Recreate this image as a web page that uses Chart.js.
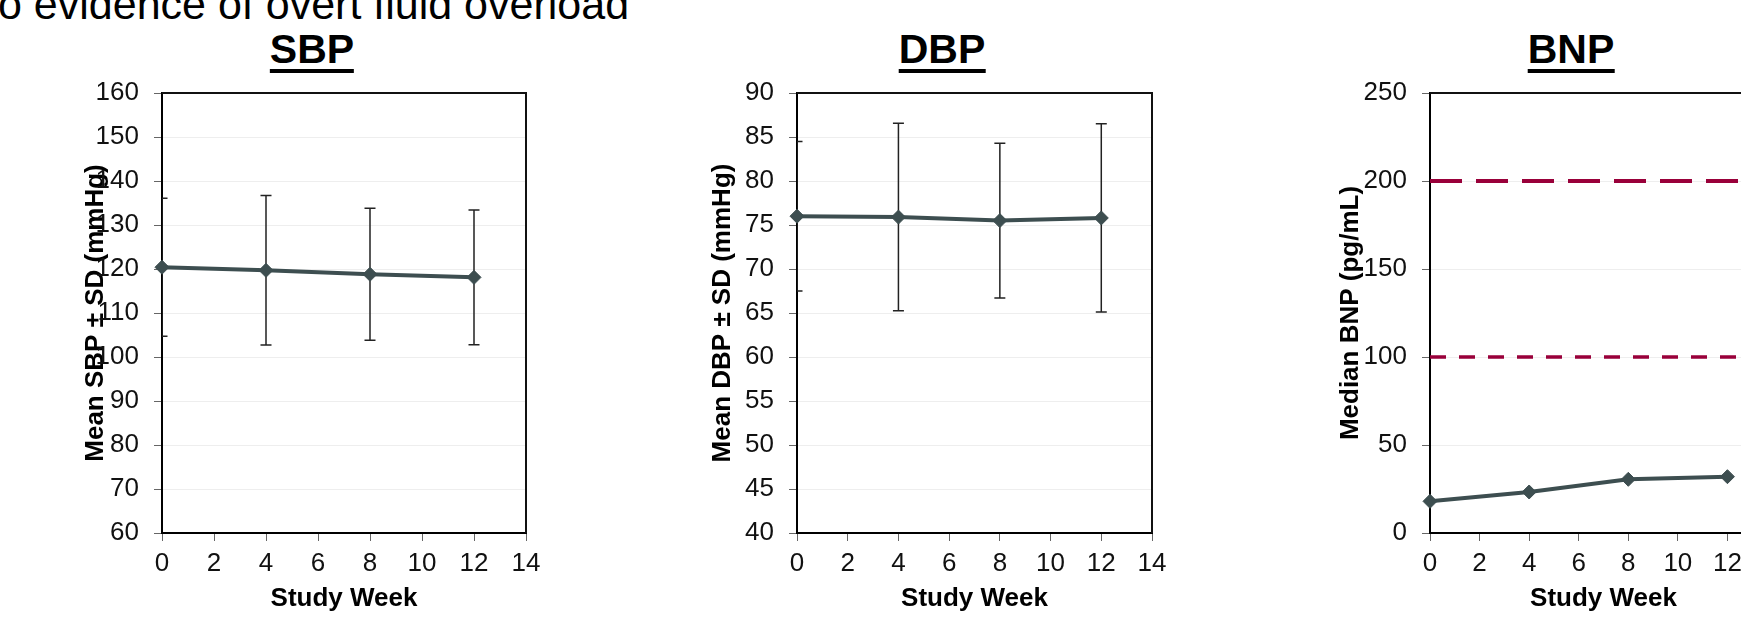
<!DOCTYPE html>
<html>
<head>
<meta charset="utf-8">
<script src="https://cdn.jsdelivr.net/npm/chart.js@4.4.1/dist/chart.umd.min.js"></script>
<style>
  html, body { margin: 0; padding: 0; background: #fff; width: 1741px; height: 618px; overflow: hidden; }
  body { position: relative; font-family: 'Liberation Sans', Arial, sans-serif; color: #000; }
  .headline { position: absolute; left: -2px; top: -17px; font-size: 43px; line-height: 43px; white-space: nowrap; }
  .ttl { position: absolute; top: 29px; font-size: 41px; line-height: 40px; font-weight: bold;
         transform: translateX(-50%); border-bottom: 4px solid #000; white-space: nowrap; }
  canvas { position: absolute; top: 0; }
</style>
</head>
<body>
<div class="headline">o evidence of overt fluid overload</div>
<div class="ttl" style="left:312px">SBP</div>
<div class="ttl" style="left:942px">DBP</div>
<div class="ttl" style="left:1571px">BNP</div>
<canvas id="sbp"></canvas>
<canvas id="dbp"></canvas>
<canvas id="bnp"></canvas>
<script>
// data
const weeks = [0, 4, 8, 12];
const weekTicks = [0, 2, 4, 6, 8, 10, 12, 14];

const sbpMean = [120.4, 119.7, 118.8, 118.1];
const sbpSd = [15.7, 17.0, 15.0, 15.3];
const sbpTicks = [60, 70, 80, 90, 100, 110, 120, 130, 140, 150, 160];

const dbpMean = [76.0, 75.9, 75.5, 75.8];
const dbpSd = [8.5, 10.65, 8.8, 10.7];
const dbpTicks = [40, 45, 50, 55, 60, 65, 70, 75, 80, 85, 90];

const bnpMedian = [18.0, 23.3, 30.5, 32.0];
const bnpRefLevels = [100, 200];
const bnpTicks = [0, 50, 100, 150, 200, 250];

const SLATE = '#3d4e50';
const CRIMSON = '#99003a';

Chart.defaults.font.family = "'Liberation Sans', Arial, sans-serif";
Chart.defaults.color = '#111';

//error bars drawn through the chart scales
const errorBars = {
  id: 'errorBars',
  beforeDatasetsDraw(chart, args, opts) {
    const sd = opts.sd;
    if (!sd) return;
    const { ctx, chartArea: a, scales: { x, y } } = chart;
    const pts = chart.data.datasets[0].data;
    ctx.save();
    ctx.beginPath();
    ctx.rect(a.left, a.top, a.right - a.left, a.bottom - a.top);
    ctx.clip();
    ctx.strokeStyle = '#222';
    ctx.lineWidth = 1.5;
    pts.forEach((p, i) => {
      const px = x.getPixelForValue(p.x);
      const hi = y.getPixelForValue(p.y + sd[i]);
      const lo = y.getPixelForValue(p.y - sd[i]);
      ctx.beginPath();
      ctx.moveTo(px, hi); ctx.lineTo(px, lo);
      ctx.moveTo(px - 5.5, hi); ctx.lineTo(px + 5.5, hi);
      ctx.moveTo(px - 5.5, lo); ctx.lineTo(px + 5.5, lo);
      ctx.stroke();
    });
    ctx.restore();
  }
};

//top + right border of the plot box
const frame = {
  id: 'frame',
  beforeDatasetsDraw(chart) {
    const { ctx, chartArea: a } = chart;
    ctx.save();
    ctx.strokeStyle = '#111';
    ctx.lineWidth = 2;
    ctx.beginPath();
    ctx.moveTo(a.left, a.top);
    ctx.lineTo(a.right, a.top);
    ctx.lineTo(a.right, a.bottom);
    ctx.stroke();
    ctx.restore();
  }
};

function toPoints(xs, ys) {
  return xs.map((w, i) => ({ x: w, y: ys[i] }));
}

function makePanel(id, cfg) {
  const canvas = document.getElementById(id);
  const W = cfg.plotRight + 40 - cfg.canvasLeft;
  const H = 618;
  canvas.width = W; canvas.height = H;
  canvas.style.left = cfg.canvasLeft + 'px';
  canvas.style.width = W + 'px'; canvas.style.height = H + 'px';
  const yStep = cfg.yTicks[1] - cfg.yTicks[0];

  const datasets = [{
    data: toPoints(weeks, cfg.values),
    borderColor: SLATE,
    backgroundColor: SLATE,
    borderWidth: 4,
    pointStyle: 'rectRot',
    pointRadius: 7,
    pointBorderWidth: 1,
    pointBackgroundColor: SLATE,
    pointBorderColor: SLATE,
    tension: 0,
    clip: false,
  }];
  (cfg.refs || []).forEach(r => datasets.push({
    data: toPoints([weekTicks[0], weekTicks[weekTicks.length - 1]], [r.level, r.level]),
    borderColor: CRIMSON,
    borderWidth: r.width,
    borderDash: r.dash,
    pointRadius: 0,
    tension: 0,
  }));

  return new Chart(canvas, {
    type: 'line',
    data: { datasets },
    plugins: [frame, errorBars],
    options: {
      responsive: false,
      animation: false,
      layout: { padding: { top: 93, right: 40, bottom: 0, left: 0 } },
      plugins: {
        legend: { display: false },
        tooltip: { enabled: false },
        errorBars: { sd: cfg.sd },
      },
      scales: {
        x: {
          type: 'linear',
          min: weekTicks[0], max: weekTicks[weekTicks.length - 1],
          afterFit: s => { s.height = H - 533; },
          ticks: { stepSize: weekTicks[1] - weekTicks[0], padding: 7, autoSkip: false, maxRotation: 0,
                   color: '#111', font: { size: 26 } },
          grid: { drawOnChartArea: false, drawTicks: true, tickLength: 8, tickColor: '#666', tickWidth: 1 },
          border: { display: true, color: '#000', width: 2 },
          title: { display: true, text: 'Study Week', color: '#000',
                   font: { size: 26, weight: 'bold' }, padding: { top: 0, bottom: 4 } },
        },
        y: {
          min: cfg.yTicks[0], max: cfg.yTicks[cfg.yTicks.length - 1],
          afterFit: s => { s.width = cfg.plotLeft - cfg.canvasLeft; },
          ticks: { stepSize: yStep, padding: 15, autoSkip: false, color: '#111', font: { size: 26 } },
          grid: { color: '#eeeeee', lineWidth: 1, drawTicks: true, tickLength: 8, tickColor: '#666', tickWidth: 1 },
          border: { display: true, color: '#000', width: 2 },
          title: { display: true, text: cfg.yTitle, color: '#000',
                   font: { size: 26, weight: 'bold' }, padding: { top: cfg.titlePad, bottom: 0 } },
        }
      }
    }
  });
}

makePanel('sbp', {
  canvasLeft: 60, plotLeft: 162, plotRight: 526, titlePad: 20,
  values: sbpMean, sd: sbpSd, yTicks: sbpTicks,
  yTitle: 'Mean SBP \u00b1 SD (mmHg)',
});

makePanel('dbp', {
  canvasLeft: 690, plotLeft: 797, plotRight: 1152, titlePad: 17,
  values: dbpMean, sd: dbpSd, yTicks: dbpTicks,
  yTitle: 'Mean DBP \u00b1 SD (mmHg)',
});

makePanel('bnp', {
  canvasLeft: 1310, plotLeft: 1430, plotRight: 1777, titlePad: 25,
  values: bnpMedian, yTicks: bnpTicks,
  yTitle: 'Median BNP (pg/mL)',
  refs: [
    { level: bnpRefLevels[1], width: 4, dash: [32, 14] },
    { level: bnpRefLevels[0], width: 3.5, dash: [16, 13] },
  ],
});
</script>
</body>
</html>
